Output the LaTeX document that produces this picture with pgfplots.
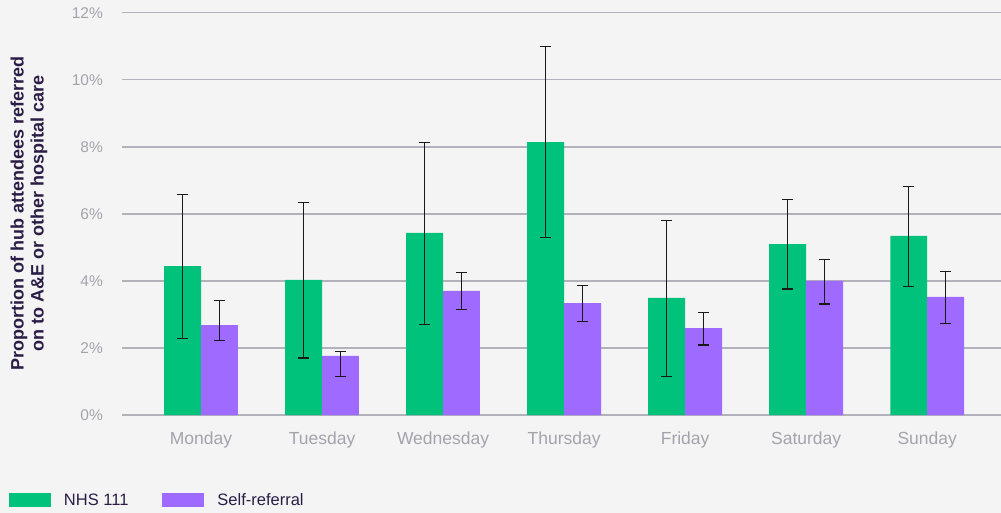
\documentclass[border=0pt]{standalone}
\usepackage{pgfplots}
\pgfplotsset{compat=1.18}
\usepackage{fontspec}
\setmainfont{Liberation Sans}
\definecolor{bg}{HTML}{F4F4F4}
\definecolor{nhs}{HTML}{00C27A}
\definecolor{selfc}{HTML}{9F6AFF}
\definecolor{gridc}{HTML}{B2B2BA}
\definecolor{tickc}{HTML}{A3A3AD}
\definecolor{dark}{HTML}{2B1D45}
\begin{document}
\begin{tikzpicture}
\fill[bg] (-122bp,-98bp) rectangle (879bp,415bp);
\useasboundingbox (-122bp,-98bp) rectangle (879bp,415bp);
\begin{axis}[
  at={(0bp,0bp)}, anchor=south west,
  scale only axis, width=879bp, height=402.3bp,
  xmin=-0.653, xmax=6.61, ymin=0, ymax=12,
  clip=false,
  axis line style={draw=none},
  major tick length=0pt,
  ytick={0,2,4,6,8,10,12},
  yticklabels={0\%,2\%,4\%,6\%,8\%,10\%,12\%},
  xtick={0,1,2,3,4,5,6},
  xticklabels={Monday,Tuesday,Wednesday,Thursday,Friday,Saturday,Sunday},
  ymajorgrids,
  grid style={gridc, line width=1.5bp},
  yticklabel style={inner sep=0pt, anchor=east, xshift=-19bp, text=tickc, font=\fontsize{15.5bp}{18bp}\selectfont},
  xticklabel style={inner sep=0pt, anchor=north, yshift=-17bp, text=tickc, font=\fontsize{17.5bp}{20bp}\selectfont},
  ylabel={Proportion of hub attendees referred\\on to A\&E or other hospital care},
  ylabel style={at={(axis description cs:-0.1058,0.5)}, anchor=center, align=center, text=dark, font=\bfseries\fontsize{18bp}{20bp}\selectfont},
  legend columns=2,
  legend cell align=left,
  legend image code/.code={\fill[#1] (0bp,-6.85bp) rectangle (42bp,6.85bp);},
  legend style={at={(axis description cs:-0.1286,-0.2113)}, anchor=west, draw=none, fill=none, inner sep=0pt, outer sep=0pt,
    text=dark, font=\fontsize{16.5bp}{19bp}\selectfont,
    /tikz/every odd column/.append style={column sep=11bp},
    /tikz/every even column/.append style={column sep=32bp}},
]
\addplot[ybar, bar width=0.305, bar shift=0, fill=nhs, draw=none,
  error bars/.cd, y dir=both, y explicit,
  error bar style={black!90, line width=1.2bp},
  error mark options={rotate=90, mark size=5.5bp, line width=1.2bp, black!90}]
coordinates {
 (-0.1525,4.44) += (0,2.13) -= (0,2.16)
 (0.8475,4.03) += (0,2.31) -= (0,2.33)
 (1.8475,5.43) += (0,2.71) -= (0,2.72)
 (2.8475,8.14) += (0,2.84) -= (0,2.84)
 (3.8475,3.49) += (0,2.31) -= (0,2.33)
 (4.8475,5.10) += (0,1.32) -= (0,1.34)
 (5.8475,5.34) += (0,1.48) -= (0,1.50)
};
\addlegendentry{NHS 111}
\addplot[ybar, bar width=0.305, bar shift=0, fill=selfc, draw=none,
  error bars/.cd, y dir=both, y explicit,
  error bar style={black!90, line width=1.2bp},
  error mark options={rotate=90, mark size=5.5bp, line width=1.2bp, black!90}]
coordinates {
 (0.1525,2.68) += (0,0.73) -= (0,0.46)
 (1.1525,1.76) += (0,0.13) -= (0,0.62)
 (2.1525,3.70) += (0,0.56) -= (0,0.56)
 (3.1525,3.34) += (0,0.52) -= (0,0.54)
 (4.1525,2.59) += (0,0.47) -= (0,0.50)
 (5.1525,4.00) += (0,0.65) -= (0,0.69)
 (6.1525,3.52) += (0,0.77) -= (0,0.78)
};
\addlegendentry{Self-referral}
\end{axis}
\end{tikzpicture}
\end{document}
